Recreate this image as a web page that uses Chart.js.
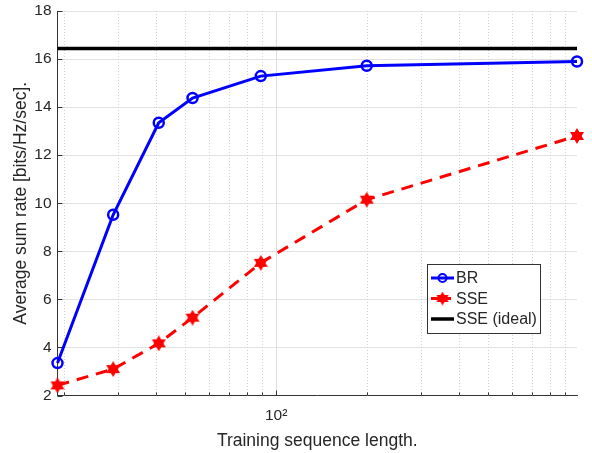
<!DOCTYPE html>
<html>
<head>
<meta charset="utf-8">
<script src="https://cdn.jsdelivr.net/npm/chart.js@4.4.0/dist/chart.umd.min.js"></script>
<style>
  html, body { margin: 0; padding: 0; background: #fff; }
</style>
</head>
<body>
<canvas id="rateChart" width="592" height="453"></canvas>
<script>
// training sequence lengths (log x axis)
const seqLength = [19, 29, 41, 53, 89, 199, 983];

// average sum rate per method
const brRate = [3.35, 9.52, 13.35, 14.38, 15.29, 15.72, 15.9];
const sseRate = [2.42, 3.1, 4.17, 5.24, 7.52, 10.15, 12.8];
const sseIdealRate = 16.44;

// axis ticks
const xGridValues = [20, 30, 40, 50, 60, 70, 80, 90, 100, 200, 300, 400, 500, 600, 700, 800, 900];
const xMajorTick = 100;
const yMin = 2, yMax = 18, yStep = 2;

const textColor = '#262626';
const family = '"Liberation Sans", Arial, sans-serif';
const tickFont = { family: family, size: 15.5 };
const titleFont = { family: family, size: 17.5 };

// filled six point star like the matlab hexagram marker
function makeStar(size, color) {
  const c = document.createElement('canvas');
  c.width = c.height = size;
  const g = c.getContext('2d');
  const r = size / 2;
  g.fillStyle = color;
  [-Math.PI / 2, Math.PI / 2].forEach(a0 => {
    g.beginPath();
    for (let k = 0; k < 3; k++) {
      const a = a0 + k * 2 * Math.PI / 3;
      const px = r + r * Math.cos(a), py = r + r * Math.sin(a);
      if (k) g.lineTo(px, py); else g.moveTo(px, py);
    }
    g.closePath();
    g.fill();
  });
  return c;
}
const starMark = makeStar(16, '#ff0000');

const toPoints = (xs, ys) => xs.map((x, i) => ({ x: x, y: ys[i] }));

// dotted minor grid + inward ticks, matlab style
const minorGrid = {
  id: 'minorGrid',
  beforeDatasetsDraw(chart) {
    const { ctx, chartArea: a, scales: { x, y } } = chart;
    ctx.save();
    ctx.lineWidth = 1;
    ctx.strokeStyle = '#d2d2d2';
    ctx.setLineDash([1, 2]);
    xGridValues.filter(v => v !== xMajorTick).forEach(v => {
      const px = Math.round(x.getPixelForValue(v)) + 0.5;
      ctx.beginPath(); ctx.moveTo(px, a.top); ctx.lineTo(px, a.bottom); ctx.stroke();
    });
    ctx.setLineDash([]);
    ctx.strokeStyle = '#333';
    xGridValues.forEach(v => {
      const px = Math.round(x.getPixelForValue(v)) + 0.5;
      const len = v === xMajorTick ? 5 : 3;
      ctx.beginPath(); ctx.moveTo(px, a.bottom); ctx.lineTo(px, a.bottom - len); ctx.stroke();
    });
    for (let v = yMin; v <= yMax; v += yStep) {
      const py = Math.round(y.getPixelForValue(v)) + 0.5;
      ctx.beginPath(); ctx.moveTo(a.left, py); ctx.lineTo(a.left + 5, py); ctx.stroke();
    }
    ctx.restore();
  }
};

// legend box inside the plot, lower right
const boxLegend = {
  id: 'boxLegend',
  afterDraw(chart) {
    const ctx = chart.ctx;
    const left = 427, top = 264, w = 113, h = 69;
    ctx.save();
    ctx.fillStyle = '#fff';
    ctx.fillRect(left, top, w, h);
    ctx.strokeStyle = '#333';
    ctx.lineWidth = 1;
    ctx.strokeRect(left + 0.5, top + 0.5, w, h);
    chart.data.datasets.forEach((ds, i) => {
      const cy = top + 14 + i * 20.5;
      ctx.strokeStyle = ds.borderColor;
      ctx.lineWidth = ds.borderWidth;
      ctx.setLineDash(ds.borderDash ? [8, 4] : []);
      ctx.beginPath(); ctx.moveTo(left + 4, cy); ctx.lineTo(left + 27, cy); ctx.stroke();
      ctx.setLineDash([]);
      if (ds.pointStyle instanceof HTMLCanvasElement) {
        ctx.drawImage(ds.pointStyle, left + 15.5 - 7, cy - 7, 14, 14);
      } else if (ds.pointRadius) {
        ctx.lineWidth = 2;
        ctx.beginPath(); ctx.arc(left + 15.5, cy, 4, 0, Math.PI * 2); ctx.stroke();
      }
      ctx.fillStyle = textColor;
      ctx.font = '16px ' + family;
      ctx.textBaseline = 'middle';
      ctx.fillText(ds.label, left + 29, cy + 1);
    });
    ctx.restore();
  }
};

new Chart(document.getElementById('rateChart').getContext('2d'), {
  type: 'line',
  data: {
    datasets: [
      { label: 'BR', data: toPoints(seqLength, brRate), borderColor: '#0000ff', borderWidth: 3,
        pointRadius: 5, pointBorderWidth: 2.5, pointBackgroundColor: 'rgba(0,0,0,0)', pointBorderColor: '#0000ff',
        tension: 0, clip: false, order: 3 },
      { label: 'SSE', data: toPoints(seqLength, sseRate), borderColor: '#ff0000', borderWidth: 3,
        borderDash: [12, 8], pointStyle: starMark, pointRadius: 8, tension: 0, clip: false, order: 2 },
      { label: 'SSE (ideal)', data: toPoints([seqLength[0], seqLength[seqLength.length - 1]], [sseIdealRate, sseIdealRate]),
        borderColor: '#000000', borderWidth: 3.5, pointRadius: 0, tension: 0, clip: false, order: 1 }
    ]
  },
  options: {
    responsive: false, animation: false,
    layout: { padding: { top: 8, right: 15, left: 0, bottom: 0 } },
    plugins: { legend: { display: false }, tooltip: { enabled: false } },
    scales: {
      x: {
        type: 'logarithmic', min: seqLength[0], max: seqLength[seqLength.length - 1],
        afterBuildTicks: s => { s.ticks = xGridValues.map(v => ({ value: v, major: v === xMajorTick })); },
        afterFit: s => { s.height = 57.5; s.paddingLeft = 0; s.paddingRight = 0; },
        ticks: { autoSkip: false, maxRotation: 0, padding: 11, color: textColor, font: tickFont,
          callback: v => v === xMajorTick ? '10²' : '' },
        grid: { color: c => c.tick && c.tick.value === xMajorTick ? '#dedede' : 'rgba(0,0,0,0)', drawTicks: false },
        border: { color: '#333', width: 1 },
        title: { display: true, text: 'Training sequence length.', color: textColor, font: titleFont, padding: { top: 0, bottom: 1.5 } }
      },
      y: {
        min: yMin, max: yMax,
        afterFit: s => { s.width = 57.5; s.paddingTop = 0; s.paddingBottom = 0; },
        ticks: { stepSize: yStep, padding: 6, color: textColor, font: tickFont },
        grid: { color: '#e2e2e2', drawTicks: false },
        border: { color: '#333', width: 1 },
        title: { display: true, text: 'Average sum rate [bits/Hz/sec].', color: textColor, font: titleFont, padding: { top: 11, bottom: 0 } }
      }
    }
  },
  plugins: [minorGrid, boxLegend]
});
</script>
</body>
</html>
